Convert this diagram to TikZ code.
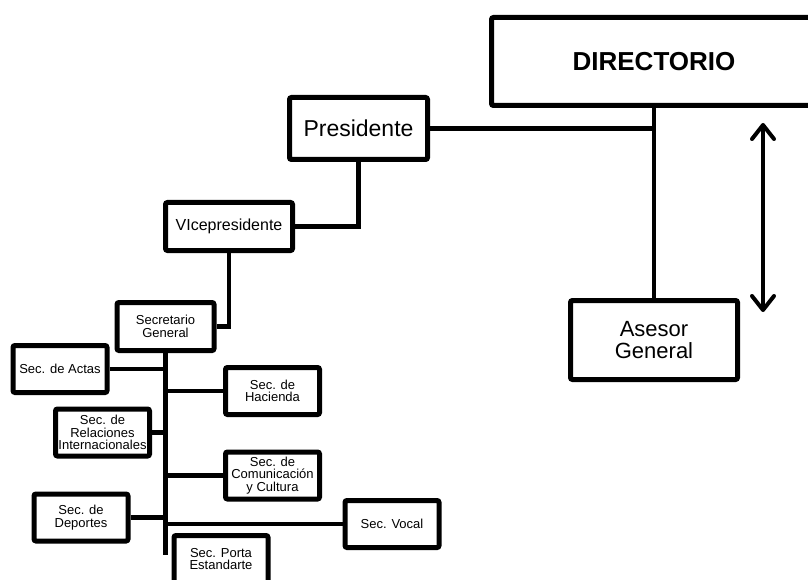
\documentclass[tikz,border=0pt]{standalone}
\usepackage{fontspec}
\setmainfont{Liberation Sans}
\usetikzlibrary{arrows.meta,shadows}

\begin{document}
\begin{tikzpicture}[x=1pt,y=-1pt,
		caja/.style={draw,line width=5pt,rounded corners=2pt,fill=white,align=center,inner sep=1pt,
			drop shadow={opacity=0.3,shadow xshift=1.5pt,shadow yshift=-2pt}},
		secbox/.style={caja,minimum width=94pt,minimum height=47pt,font=\fontsize{13}{12.5}\selectfont},
		linea/.style={line width=4.5pt},
		punta/.tip={Straight Barb[length=14pt,width=22pt,round]}
	]

		\clip (0,0) rectangle (808,580);
		\fill[white] (0,0) rectangle (808,580);

		\node[caja,minimum width=325pt,minimum height=88pt,font=\fontsize{26}{30}\selectfont\bfseries] (dir) at (654,61.5) {DIRECTORIO};
		\node[caja,minimum width=138pt,minimum height=62pt,font=\fontsize{23}{26}\selectfont] (pres) at (358.5,128.5) {Presidente};
		\node[caja,minimum width=127pt,minimum height=48pt,font=\fontsize{16}{18}\selectfont] (vice) at (229,226.5) {VIcepresidente};
		\node[secbox,minimum width=97pt,minimum height=48pt] (secgen) at (165.5,326.5) {Secretario\\General};
		\node[caja,minimum width=167pt,minimum height=79pt,font=\fontsize{22}{22}\selectfont] (ases) at (654,340) {Asesor\\General};

		\node[secbox] (actas) at (60,369) {Sec. de Actas};
		\node[secbox] (hac) at (272.5,391) {Sec. de\\Hacienda};
		\node[secbox] (rel) at (102.5,432.5) {Sec. de\\Relaciones\\Internacionales};
		\node[secbox] (com) at (272.5,475.5) {Sec. de\\Comunicación\\y Cultura};
		\node[secbox] (dep) at (81,517.5) {Sec. de\\Deportes};
		\node[secbox] (voc) at (392,524) {Sec. Vocal};
		\node[secbox] (porta) at (221,559) {Sec. Porta\\Estandarte};

		\coordinate (fin) at (165.5,555);
		\coordinate (flechaA) at (763,123);
		\coordinate (flechaB) at (763,312);

		\draw[linea] (dir.south) -- (ases.north);

		\draw[linea] (pres.east) -- (pres.east -| dir.south);

		\draw[linea] (pres.south) |- (vice.east);

		\draw[linea] (vice.south) |- (secgen.east);

		\draw[linea] (secgen.south) -- (fin);

		\draw[linea] (actas.east) -- (actas.east -| secgen.south);
		\draw[linea] (hac.west) -- (hac.west -| secgen.south);
		\draw[linea] (rel.east) -- (rel.east -| secgen.south);
		\draw[linea] (com.west) -- (com.west -| secgen.south);
		\draw[linea] (dep.east) -- (dep.east -| secgen.south);
		\draw[linea] (voc.west) -- (voc.west -| secgen.south);

		\draw[line width=4pt,punta-punta] (flechaA) -- (flechaB);

	\end{tikzpicture}
\end{document}
